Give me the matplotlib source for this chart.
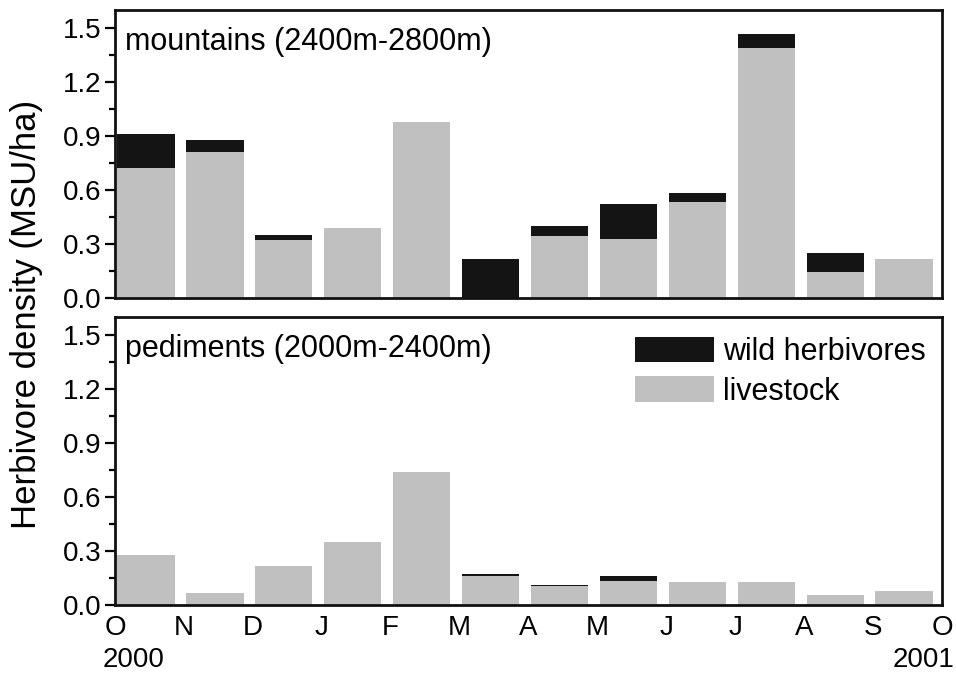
import matplotlib
matplotlib.use("Agg")
import matplotlib.pyplot as plt
from matplotlib.ticker import MultipleLocator
import numpy as np

plt.rcParams['font.family'] = ['Liberation Sans', 'DejaVu Sans']

months = ["O", "N", "D", "J", "F", "M", "A", "M", "J", "J", "A", "S", "O"]
years = ["2000", "2001"]

mount_livestock = [0.72, 0.81, 0.32, 0.39, 0.98, 0.0, 0.345, 0.33, 0.535, 1.387, 0.145, 0.215]
mount_wild      = [0.19, 0.07, 0.03, 0.0, 0.0, 0.217, 0.055, 0.19, 0.05, 0.08, 0.105, 0.0]

ped_livestock = [0.278, 0.067, 0.217, 0.348, 0.739, 0.16, 0.108, 0.135, 0.127, 0.126, 0.056, 0.078]
ped_wild      = [0.0, 0.0, 0.0, 0.0, 0.002, 0.013, 0.005, 0.026, 0.002, 0.0, 0.0, 0.0]

panel_titles = ["mountains (2400m-2800m)", "pediments (2000m-2400m)"]
legend_labels = ["wild herbivores", "livestock"]
ylabel = "Herbivore density (MSU/ha)"

BLACK = "#141414"
GRAY = "#c0c0c0"

fig = plt.figure(figsize=(9.56, 6.77), dpi=100)
W, H = 956, 677
axL, axR = 115 / W, 942 / W
ax1 = fig.add_axes([axL, 1 - 298 / H, axR - axL, (298 - 10) / H])
ax2 = fig.add_axes([axL, 1 - 605 / H, axR - axL, (605 - 317) / H])

x = np.arange(12) + 0.035
width = 0.83

for ax, live, wild, title in [(ax1, mount_livestock, mount_wild, panel_titles[0]),
                              (ax2, ped_livestock, ped_wild, panel_titles[1])]:
    ax.bar(x, live, width=width, align='edge', color=GRAY, linewidth=0, label=legend_labels[1])
    ax.bar(x, wild, width=width, bottom=live, align='edge', color=BLACK, linewidth=0,
           label=legend_labels[0])
    ax.set_xlim(0, 12)
    ax.set_ylim(0, 1.6)
    ax.yaxis.set_major_locator(MultipleLocator(0.3))
    ax.yaxis.set_minor_locator(MultipleLocator(0.15))
    ax.yaxis.set_major_formatter(matplotlib.ticker.FormatStrFormatter('%.1f'))
    ax.tick_params(axis='y', which='major', direction='out', length=7, width=1.6,
                   labelsize=20, pad=3)
    ax.tick_params(axis='y', which='minor', direction='out', length=4, width=1.6)
    ax.set_xticks(range(13))
    ax.tick_params(axis='x', length=0, labelsize=20, pad=7)
    for s in ax.spines.values():
        s.set_linewidth(2.0)
        s.set_color("#111111")
    ax.text(0.012, 0.94, title, transform=ax.transAxes, fontsize=22, va='top', ha='left')

ax1.set_xticklabels([])
ax2.set_xticklabels(months)

handles, labels = ax2.get_legend_handles_labels()
leg = ax2.legend(handles[::-1], labels[::-1], loc='upper right', frameon=False, fontsize=22,
                 handlelength=2.6, handleheight=0.9, handletextpad=0.3, labelspacing=0.3,
                 borderaxespad=0.0, borderpad=0.2, bbox_to_anchor=(0.988, 0.952))

fig.text(103 / W, 1 - 660 / H, years[0], fontsize=20, ha='left', va='center')
fig.text(955 / W, 1 - 660 / H, years[1], fontsize=20, ha='right', va='center')

fig.text(27 / W, 1 - 314 / H, ylabel, fontsize=25, rotation=90, ha='center', va='center')

fig.savefig("out.png", dpi=100)
